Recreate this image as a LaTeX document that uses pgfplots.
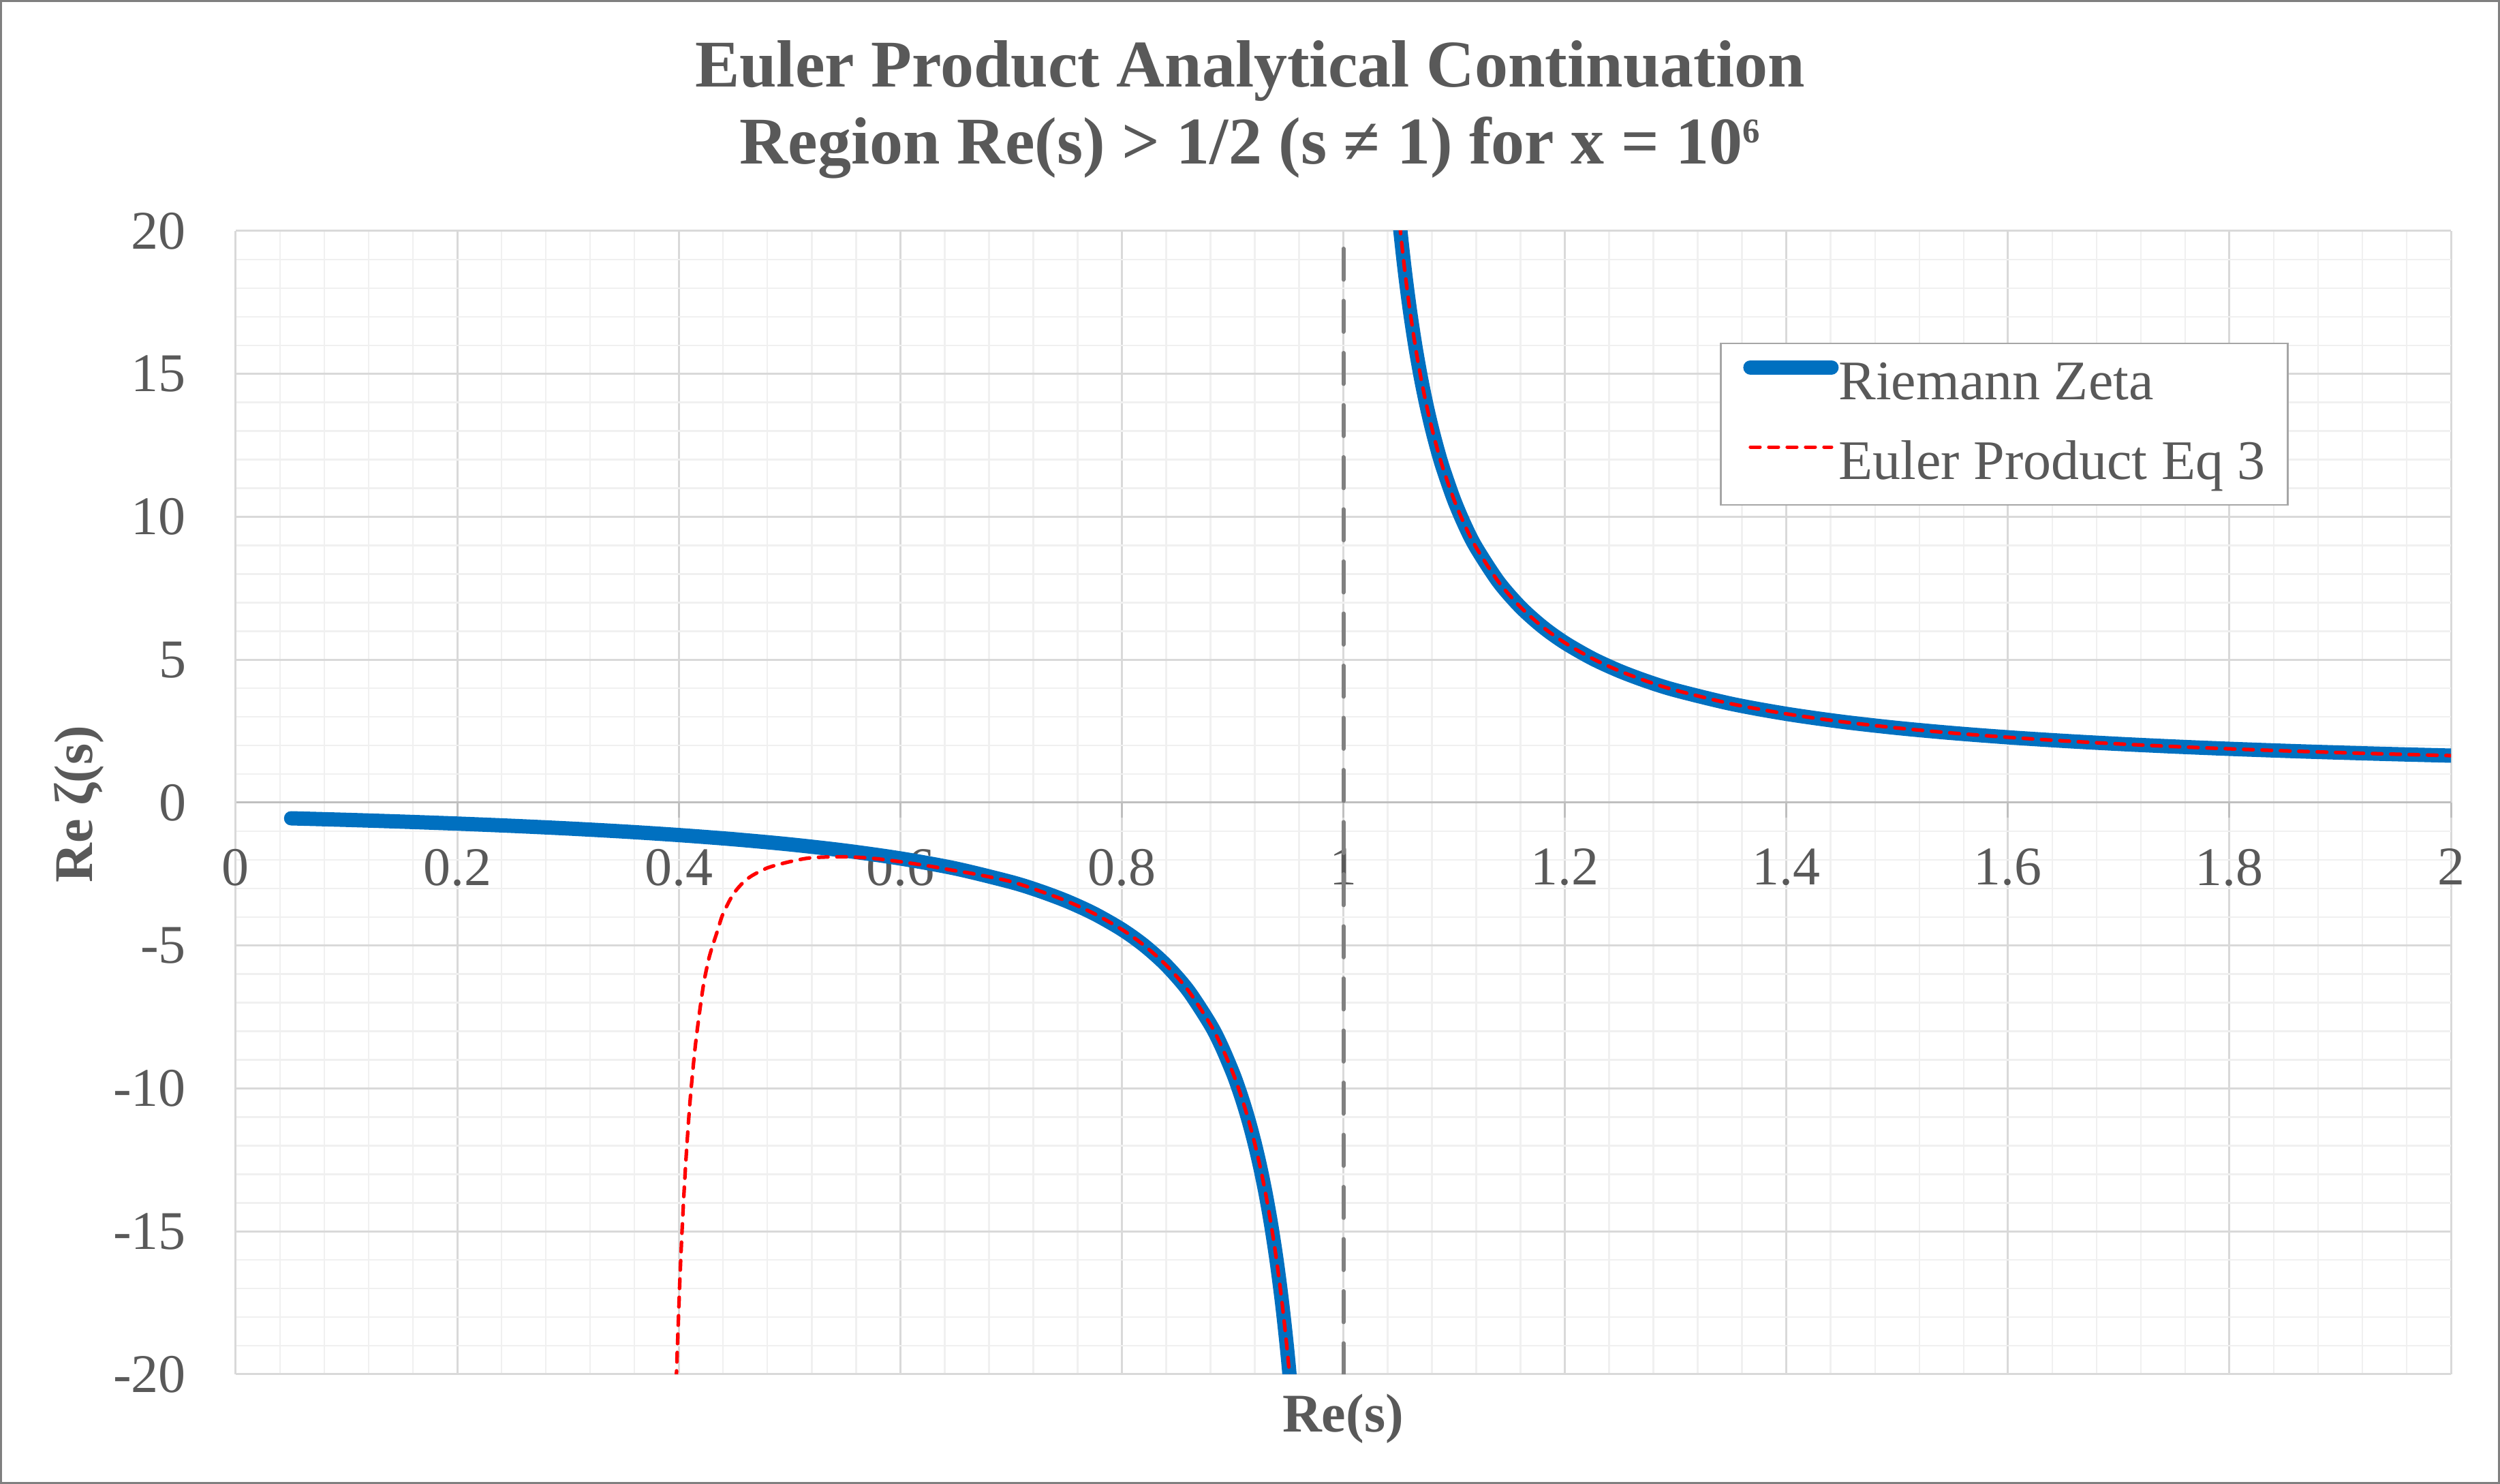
\documentclass[border=0pt]{standalone}
\usepackage{fontspec}
\setmainfont{Liberation Serif}
\usepackage{pgfplots}
\pgfplotsset{compat=1.18}
\definecolor{textgray}{HTML}{595959}
\definecolor{gridmajor}{HTML}{D9D9D9}
\definecolor{gridminor}{HTML}{F0F0F0}
\definecolor{axisgray}{HTML}{BFBFBF}
\definecolor{zetablue}{HTML}{0070C0}
\definecolor{eulerred}{HTML}{FF0000}
\definecolor{vgray}{HTML}{808080}
\definecolor{bordergray}{HTML}{808080}
\definecolor{legendgray}{HTML}{A6A6A6}
\begin{document}
\begin{tikzpicture}
\path[use as bounding box] (0,0) rectangle (733.8pt,435.6pt);
\draw[bordergray, line width=0.6pt] (0.3pt,0.3pt) rectangle (733.5pt,435.3pt);
\node[anchor=base, font=\fontsize{19.6}{23.5}\selectfont\bfseries, text=textgray] at (366.9pt,410pt) {Euler Product Analytical Continuation};
\node[anchor=base, font=\fontsize{19.6}{23.5}\selectfont\bfseries, text=textgray] at (366.9pt,387.4pt) {Region Re(s) > 1/2 (s ≠ 1) for x = 10\raisebox{6.3pt}{\fontsize{10.2}{10}\selectfont 6}};
\node[anchor=base, font=\fontsize{16}{19.2}\selectfont\bfseries, text=textgray] at (394.2pt,15.2pt) {Re(s)};
\node[anchor=base, rotate=90, font=\fontsize{16}{19.2}\selectfont\bfseries, text=textgray] at (27pt,199.6pt) {Re ζ(s)};
\begin{axis}[
  at={(69.2pt,32.2pt)}, anchor=south west, scale only axis,
  width=650.2pt, height=335.6pt,
  xmin=0, xmax=2, ymin=-20, ymax=20,
  axis x line=middle, axis y line=left,
  axis line style={-},
  x axis line style={draw=axisgray, line width=0.6pt},
  y axis line style={draw=gridmajor, line width=0.6pt},
  xtick={0,0.2,0.4,0.6,0.8,1,1.2,1.4,1.6,1.8,2},
  xticklabels={0,0.2,0.4,0.6,0.8,1,1.2,1.4,1.6,1.8,2},
  ytick={-20,-15,-10,-5,0,5,10,15,20},
  yticklabels={-20,-15,-10,-5,0,5,10,15,20},
  minor x tick num=4, minor y tick num=4,
  grid=both,
  major grid style={draw=gridmajor, line width=0.6pt},
  minor grid style={draw=gridminor, line width=0.5pt},
  tick align=outside,
  major tick length=4.4pt,
  minor tick length=0pt,
  x tick style={draw=axisgray, line width=0.6pt},
  y tick style={draw=none},
  hide obscured x ticks=false, hide obscured y ticks=false,
  ticklabel style={font=\fontsize{16}{19.2}\selectfont, text=textgray, inner sep=0pt},
  xticklabel style={anchor=north, yshift=-9pt},
  yticklabel style={anchor=east, xshift=-10pt},
  unbounded coords=jump,
  legend cell align=left,
  legend image code/.code={\path[draw=none,fill=none] (0pt,0pt) rectangle (28pt,5pt); \draw[#1] (2.1pt,5pt) -- (25.9pt,5pt);},
  legend style={at={(axis description cs:0.670,0.9023)}, anchor=north west,
    draw=legendgray, line width=0.5pt, fill=white,
    inner xsep=6.6pt, inner ysep=4pt, row sep=7.4pt,
    font=\fontsize{16.4}{19.6}\selectfont, text=textgray,
    nodes={inner sep=0pt, text height=12.5pt, text depth=3.5pt},
    /tikz/every even column/.append style={column sep=0pt}},
]
\addplot[vgray, line width=1.2pt, dash pattern=on 9.1pt off 6.2pt, line cap=round, forget plot]
  coordinates {(1,-20) (1,20)};
\addplot[zetablue, line width=4.2pt, line cap=round, line join=round, smooth] coordinates {
(0.05,-0.5486) (0.10,-0.6030) (0.15,-0.6644) (0.20,-0.7339) (0.25,-0.8133)
(0.30,-0.9046) (0.35,-1.0105) (0.40,-1.1348) (0.45,-1.2824) (0.50,-1.4604)
(0.55,-1.6787) (0.60,-1.9527) (0.65,-2.3060) (0.70,-2.7784) (0.725,-3.0795)
(0.75,-3.4413) (0.775,-3.8839) (0.80,-4.4375) (0.82,-4.9916) (0.84,-5.6846)
(0.86,-6.5759) (0.88,-7.7649) (0.89,-8.5218) (0.90,-9.4301) (0.905,-9.9561)
(0.91,-10.5405) (0.915,-11.1937) (0.92,-11.9286) (0.925,-12.7616) (0.93,-13.7136)
(0.935,-14.8122) (0.94,-16.0938) (0.945,-17.6086) (0.95,-19.4264) (0.955,-21.6483)
(1,nan)
(1.045,22.8027) (1.05,20.5808) (1.055,18.7630) (1.06,17.2482) (1.065,15.9665)
(1.07,14.8680) (1.075,13.9160) (1.08,13.0830) (1.085,12.3481) (1.09,11.6948)
(1.10,10.5845) (1.11,9.6761) (1.12,8.9192) (1.14,7.7302) (1.16,6.8387)
(1.18,6.1457) (1.20,5.5916) (1.225,5.0378) (1.25,4.5951) (1.275,4.2332)
(1.30,3.9319) (1.35,3.4592) (1.40,3.1055) (1.45,2.8312) (1.50,2.6124)
(1.55,2.4339) (1.60,2.2858) (1.65,2.1609) (1.70,2.0543) (1.75,1.9623)
(1.80,1.8822) (1.85,1.8119) (1.90,1.7498) (1.95,1.6944) (2.00,1.6449)
};
\addlegendentry{Riemann Zeta}
\addplot[eulerred, line width=1.05pt, dash pattern=on 2.8pt off 2.6pt, line cap=round, line join=round, smooth] coordinates {
(0.3970,-21.5) (0.3979,-20.00) (0.3996,-18.15) (0.4010,-16.67) (0.4027,-15.18)
(0.4045,-13.80) (0.4066,-12.41) (0.4092,-10.93) (0.4113,-9.94) (0.4148,-8.55)
(0.4185,-7.40) (0.4226,-6.30) (0.4272,-5.45) (0.4310,-4.95) (0.4352,-4.45)
(0.4393,-3.95) (0.4462,-3.40) (0.4515,-3.08) (0.4580,-2.80) (0.4659,-2.56)
(0.4802,-2.28) (0.4987,-2.08) (0.5171,-1.94) (0.5356,-1.90) (0.5540,-1.90)
(0.5725,-1.94) (0.5910,-2.02) (0.6094,-2.12) (0.6279,-2.23) (0.6463,-2.36)
(0.6648,-2.48) (0.6832,-2.62) (0.7017,-2.78) (0.725,-3.08) (0.75,-3.4413)
(0.775,-3.8839) (0.80,-4.4375) (0.82,-4.9916) (0.84,-5.6846) (0.86,-6.5759)
(0.88,-7.7649) (0.89,-8.5218) (0.90,-9.4301) (0.905,-9.9561) (0.91,-10.5405)
(0.915,-11.1937) (0.92,-11.9286) (0.925,-12.7616) (0.93,-13.7136) (0.935,-14.8122)
(0.94,-16.0938) (0.945,-17.6086) (0.95,-19.4264) (0.955,-21.6483)
(1,nan)
(1.045,22.8027) (1.05,20.5808) (1.055,18.7630) (1.06,17.2482) (1.065,15.9665)
(1.07,14.8680) (1.075,13.9160) (1.08,13.0830) (1.085,12.3481) (1.09,11.6948)
(1.10,10.5845) (1.11,9.6761) (1.12,8.9192) (1.14,7.7302) (1.16,6.8387)
(1.18,6.1457) (1.20,5.5916) (1.225,5.0378) (1.25,4.5951) (1.275,4.2332)
(1.30,3.9319) (1.35,3.4592) (1.40,3.1055) (1.45,2.8312) (1.50,2.6124)
(1.55,2.4339) (1.60,2.2858) (1.65,2.1609) (1.70,2.0543) (1.75,1.9623)
(1.80,1.8822) (1.85,1.8119) (1.90,1.7498) (1.95,1.6944) (2.00,1.6449)
};
\addlegendentry{Euler Product Eq 3\hspace{5pt}}
\end{axis}
\end{tikzpicture}
\end{document}
